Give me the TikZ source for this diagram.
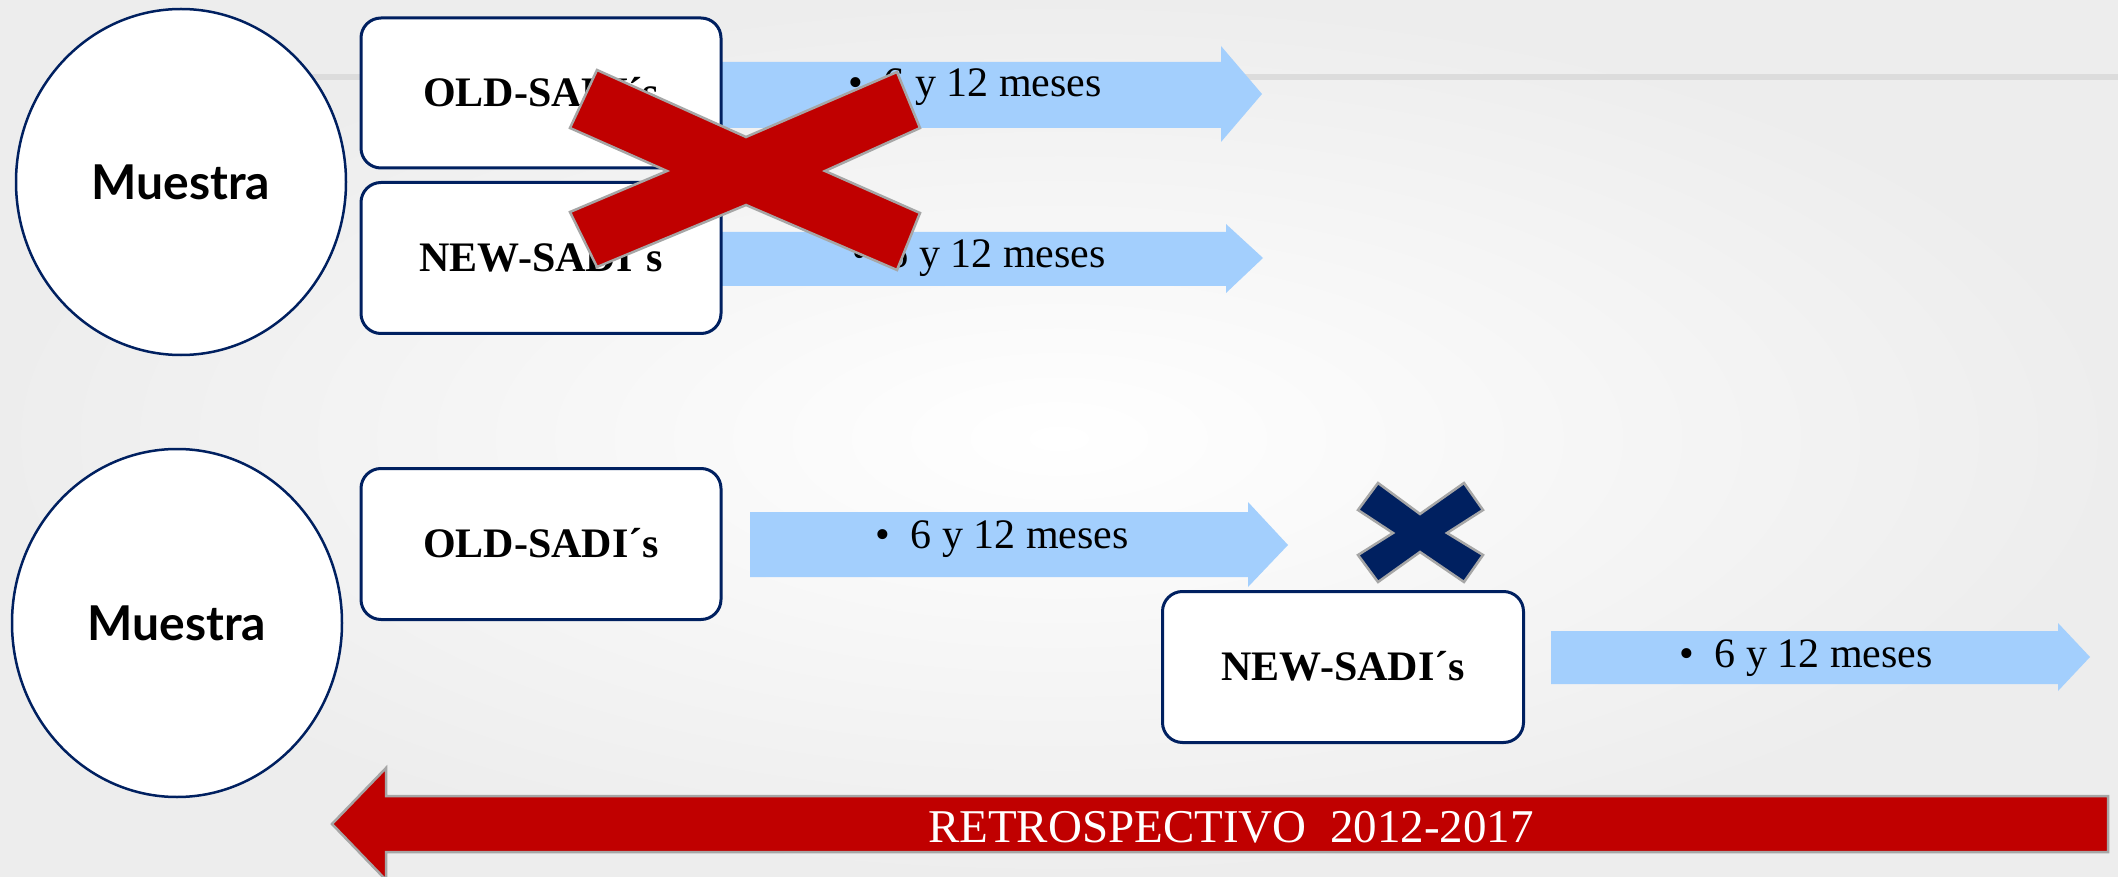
\documentclass[tikz,border=0pt]{standalone}
\usepackage{fontspec}
\setmainfont{Liberation Serif}
\newfontfamily\muestrafont{Lato}
\usetikzlibrary{shapes.geometric}
\definecolor{navy}{HTML}{002060}
\definecolor{xred}{HTML}{C00000}
\definecolor{lblue}{HTML}{A3CFFD}
\definecolor{xgray}{HTML}{A6A6A6}
\definecolor{lineg}{HTML}{DCDCDC}
\begin{document}
\begin{tikzpicture}[x=1pt,y=-1pt,
  sample/.style={draw=navy,line width=2.5pt,fill=white,ellipse,inner sep=0pt,
    font=\muestrafont\bfseries\fontsize{48}{52}\selectfont,text height=34.4pt,text depth=0pt},
  groupbox/.style={draw=navy,line width=3pt,fill=white,rounded corners=20pt,inner sep=0pt,
    font=\bfseries\fontsize{42}{50}\selectfont,text height=27.8pt,text depth=0pt},
  arrowtext/.style={font=\fontsize{42}{50}\selectfont,inner sep=0pt,anchor=base},
  blockarrow/.style={fill=lblue},
  crossmark/.style={draw=xgray,line width=2.5pt,line join=miter},
]
\useasboundingbox (0,0) rectangle (2118,877);
\shade[inner color=white, outer color=black!7] (0,0) rectangle (2118,877);
\draw[lineg,line width=6pt] (300,77) -- (2118,77);

% ---------- top group ----------
\node[sample,minimum width=330pt,minimum height=346pt] (m1) at (181,182) {Muestra};
\fill[blockarrow] (700,62) -- (1221,62) -- (1221,46) -- (1262,94) -- (1221,142) -- (1221,128) -- (700,128) -- cycle;
\fill[blockarrow] (700,232) -- (1226,232) -- (1226,224) -- (1263,258) -- (1226,293) -- (1226,286) -- (700,286) -- cycle;
\node[groupbox,minimum width=360pt,minimum height=150pt] (oldA) at (541,93) {OLD-SADI´s};
\node[groupbox,minimum width=360pt,minimum height=151pt] (newA) at (541,258) {NEW-SADI´s};
\node[arrowtext] (tA1) at (975,97) {•\hspace{0.5em}6 y 12 meses};
\node[arrowtext] (tA2) at (979,268) {•\hspace{0.5em}6 y 12 meses};
\filldraw[crossmark,fill=xred] (597,70) -- (746,137) -- (897,72) -- (920,128) -- (825,171) -- (920,213) -- (897,270) -- (746,205) -- (597,267) -- (570,212) -- (667,171) -- (570,128) -- cycle;

% ---------- bottom group ----------
\node[sample,minimum width=330pt,minimum height=348pt] (m2) at (177,623) {Muestra};
\node[groupbox,minimum width=360pt,minimum height=151pt] (oldB) at (541,544) {OLD-SADI´s};
\fill[blockarrow] (750,512) -- (1248,512) -- (1248,502) -- (1288,545) -- (1248,587) -- (1248,577) -- (750,577) -- cycle;
\node[arrowtext] (tB1) at (1002,548) {•\hspace{0.5em}6 y 12 meses};
\filldraw[crossmark,fill=navy] (1378,483) -- (1420,514) -- (1464,483) -- (1483,510) -- (1447,533) -- (1483,555) -- (1464,582) -- (1420,552) -- (1378,582) -- (1358,555) -- (1393,533) -- (1358,510) -- cycle;
\node[groupbox,minimum width=361pt,minimum height=151pt] (newB) at (1343,667) {NEW-SADI´s};
\fill[blockarrow] (1551,631) -- (2058,631) -- (2058,623) -- (2090,657) -- (2058,691) -- (2058,684) -- (1551,684) -- cycle;
\node[arrowtext] (tB2) at (1806,667) {•\hspace{0.5em}6 y 12 meses};

% ---------- retrospective arrow ----------
\filldraw[fill=xred,draw=xgray,line width=2.5pt] (2108,796) -- (386,796) -- (386,768) -- (332,824) -- (386,880) -- (386,852) -- (2108,852) -- cycle;
\node[font=\fontsize{47}{52}\selectfont,text=white,inner sep=0pt,anchor=base] (retro) at (1231,842) {RETROSPECTIVO\ \ 2012-2017};
\end{tikzpicture}
\end{document}
